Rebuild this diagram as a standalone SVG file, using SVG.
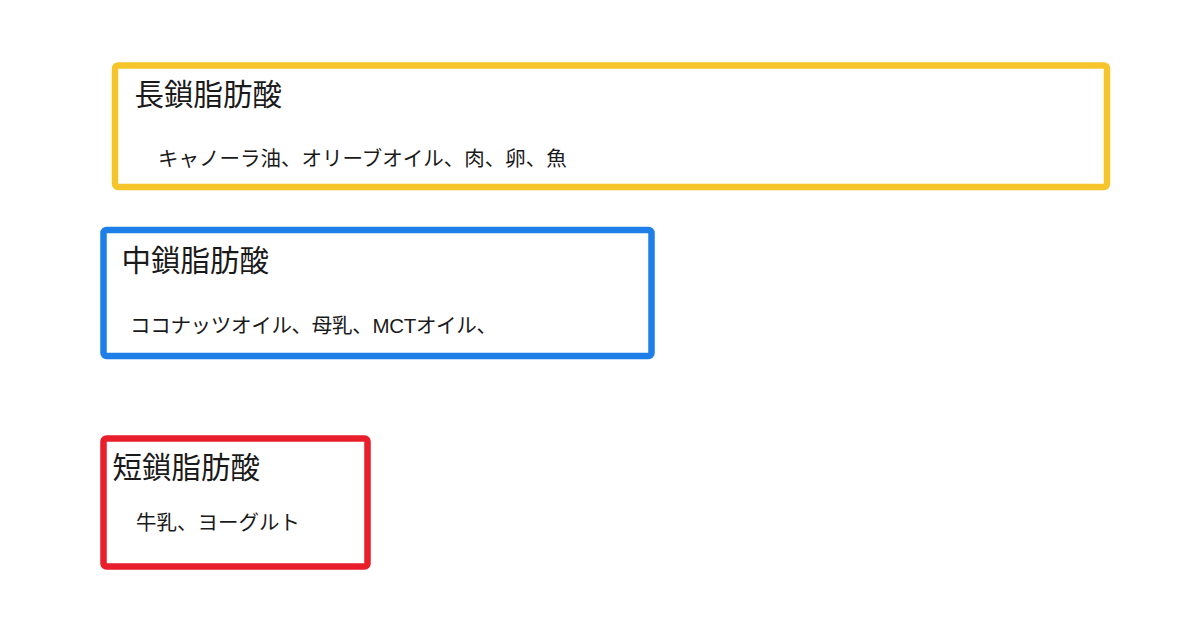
<svg xmlns="http://www.w3.org/2000/svg" width="1200" height="622" viewBox="0 0 1200 622">
<style>
.box{fill:#fff;stroke-width:6.5}
.t{font-family:"Liberation Sans","Noto Sans CJK JP",sans-serif;fill:#1a1a1a}
.h{font-size:29.5px}
.s{font-size:20.5px}
</style>
<rect width="1200" height="622" fill="#fff"/>
<g id="long">
<rect class="box" x="115" y="65.5" width="992" height="121.5" rx="3" stroke="#F5C52B"/>
<text class="t h" x="134.5" y="105">長鎖脂肪酸</text>
<text class="t s" x="158" y="166">キャノーラ油、オリーブオイル、肉、卵、魚</text>
</g>
<g id="medium">
<rect class="box" x="103.5" y="230" width="548" height="126" rx="3" stroke="#1E7FE8"/>
<text class="t h" x="121.5" y="271">中鎖脂肪酸</text>
<text class="t s" x="130" y="332.5" textLength="367" lengthAdjust="spacing">ココナッツオイル、母乳、MCTオイル、</text>
</g>
<g id="short">
<rect class="box" x="103.5" y="438.5" width="264" height="128" rx="3" stroke="#E81E2A"/>
<text class="t h" x="112.5" y="478">短鎖脂肪酸</text>
<text class="t s" x="136" y="530">牛乳、ヨーグルト</text>
</g>
<g id="connectors"></g>
</svg>
